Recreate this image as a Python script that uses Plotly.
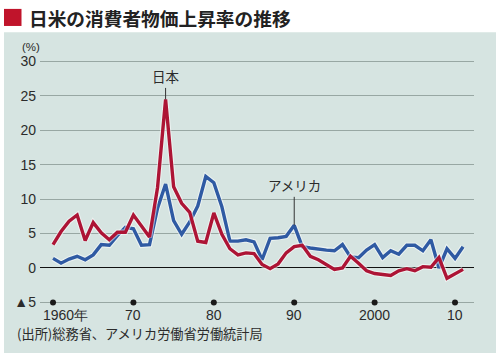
import plotly.graph_objects as go

W, H = 500, 362

years = list(range(1960, 2012))
japan = [3.4, 5.3, 6.8, 7.7, 4.0, 6.6, 5.1, 4.1, 5.2, 5.2,
         7.7, 6.1, 4.5, 11.7, 24.5, 11.8, 9.4, 8.1, 3.9, 3.7,
         8.0, 4.9, 2.8, 1.9, 2.2, 2.1, 0.5, -0.1, 0.6, 2.2,
         3.1, 3.3, 1.7, 1.2, 0.5, -0.2, 0.0, 1.7, 0.7, -0.4,
         -0.8, -0.9, -1.1, -0.4, -0.1, -0.4, 0.2, 0.1, 1.5, -1.5,
         -0.8, -0.2]
usa = [1.4, 0.7, 1.3, 1.7, 1.2, 1.9, 3.4, 3.3, 4.7, 5.9,
       5.7, 3.3, 3.4, 8.7, 12.2, 6.9, 4.9, 6.7, 9.0, 13.3,
       12.4, 8.9, 3.9, 3.9, 4.1, 3.8, 1.2, 4.3, 4.4, 4.6,
       6.2, 3.1, 2.9, 2.7, 2.6, 2.5, 3.4, 1.6, 1.5, 2.6,
       3.4, 1.5, 2.5, 2.0, 3.3, 3.3, 2.5, 4.1, 0.0, 2.8,
       1.4, 3.1]

decade_ticks = [1960, 1970, 1980, 1990, 2000, 2010]
decade_labels = ["1960年", "70", "80", "90", "2000", "10"]
y_ticks = [-5, 0, 5, 10, 15, 20, 25, 30]
y_labels = ["▲5", "0", "5", "10", "15", "20", "25", "30"]

RED = "#ad1435"
BLUE = "#2f5aa3"
BG = "#d6e4e1"
GRID = "#98a7a3"
TXT = "#2b2b2b"
NUM_FONT = "Liberation Sans, Arial, sans-serif"
JP_FONT = "Noto Sans CJK JP, sans-serif"


def px(x):
    return x / W


def py(y):
    return 1 - y / H


fig = go.Figure()

for vals, col in [(usa, BLUE), (japan, RED)]:
    fig.add_trace(go.Scatter(x=years, y=vals, mode="lines",
                             line=dict(color="rgba(255,255,255,0.55)", width=5.5),
                             hoverinfo="skip", showlegend=False))
    fig.add_trace(go.Scatter(x=years, y=vals, mode="lines",
                             line=dict(color=col, width=3.4),
                             showlegend=False))

# decade dots on the -5 line
fig.add_trace(go.Scatter(x=decade_ticks, y=[y_ticks[0]] * len(decade_ticks),
                         mode="markers", marker=dict(color="#1a1a1a", size=6),
                         showlegend=False, hoverinfo="skip", cliponaxis=False))

fig.update_xaxes(range=[1958.38, 2012.36], domain=[px(40), px(474)],
                 showgrid=False, zeroline=False, showticklabels=False,
                 showline=False, ticks="")
fig.update_yaxes(range=[-5.5, 30.5], domain=[py(308.5), py(54.5)],
                 tickvals=y_ticks, ticktext=y_labels,
                 showgrid=True, gridcolor=GRID, gridwidth=1,
                 zeroline=True, zerolinecolor="#111111", zerolinewidth=1.2,
                 showline=False, ticks="", ticklabelstandoff=3,
                 tickfont=dict(family=NUM_FONT, size=14, color=TXT))

shapes = [
    dict(type="rect", xref="paper", yref="paper", x0=px(4), x1=px(496),
         y0=py(357), y1=py(28), fillcolor=BG, line=dict(width=0), layer="below"),
    dict(type="rect", xref="paper", yref="paper", x0=px(4), x1=px(21.5),
         y0=py(21.5), y1=py(4), fillcolor="#c0142b", line=dict(width=0)),
]

annotations = [
    dict(text="<b>日米の消費者物価上昇率の推移</b>", xref="paper", yref="paper",
         x=px(27), y=py(13), xanchor="left", yanchor="middle", showarrow=False,
         font=dict(family=JP_FONT, size=18.7, color="#222222")),
    dict(text="(%)", xref="paper", yref="paper", x=px(31), y=py(43.5),
         xanchor="center", yanchor="middle", showarrow=False,
         font=dict(family=NUM_FONT, size=11.5, color=TXT)),
    dict(text="(出所)総務省、アメリカ労働省労働統計局", xref="paper", yref="paper",
         x=px(15), y=py(337), xanchor="left", yanchor="middle", showarrow=False,
         font=dict(family=JP_FONT, size=13.2, color=TXT)),
    dict(text="日本", x=1974, y=japan[years.index(1974)], xref="x", yref="y",
         showarrow=True, arrowhead=0, arrowwidth=1, arrowcolor="#333333",
         ax=0, ay=-23, standoff=0,
         font=dict(family=JP_FONT, size=13.5, color=TXT)),
    dict(text="アメリカ", x=1990, y=usa[years.index(1990)], xref="x", yref="y",
         showarrow=True, arrowhead=0, arrowwidth=1, arrowcolor="#333333",
         ax=0, ay=-40, standoff=0,
         font=dict(family=JP_FONT, size=13.5, color=TXT)),
]

for yr, lab in zip(decade_ticks, decade_labels):
    if lab.endswith("年"):
        annotations.append(dict(text=lab, x=yr, y=y_ticks[0], xref="x", yref="y",
                                xanchor="left", xshift=-12, yshift=-13,
                                showarrow=False,
                                font=dict(family=NUM_FONT, size=14, color=TXT)))
    else:
        annotations.append(dict(text=lab, x=yr, y=y_ticks[0], xref="x", yref="y",
                                xanchor="center", yshift=-13, showarrow=False,
                                font=dict(family=NUM_FONT, size=14, color=TXT)))

fig.update_layout(width=W, height=H, margin=dict(l=0, r=0, t=0, b=0),
                  paper_bgcolor="white", plot_bgcolor="rgba(0,0,0,0)",
                  shapes=shapes, annotations=annotations, showlegend=False)

fig.write_html("out.html", config={"displayModeBar": False},
               post_script="document.body.style.margin='0';document.body.style.overflow='hidden';")
